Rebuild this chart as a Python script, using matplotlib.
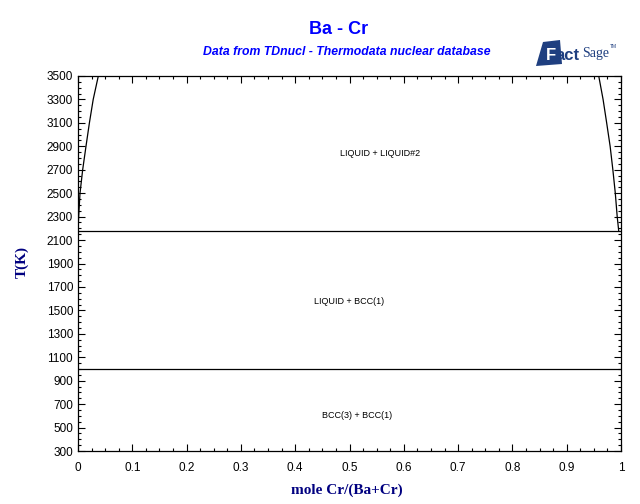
import matplotlib
matplotlib.use("Agg")
import matplotlib.pyplot as plt
from matplotlib.patches import Polygon
from matplotlib.ticker import MultipleLocator

# phase boundaries
liq_left_x = [0.0, 0.0012, 0.0037, 0.0086, 0.0147, 0.021, 0.028, 0.0374]
liq_left_T = [2178, 2300, 2500, 2700, 2900, 3100, 3300, 3500]
liq_right_x = [0.9958, 0.993, 0.9895, 0.985, 0.98, 0.9736, 0.967, 0.959]
liq_right_T = [2178, 2300, 2500, 2700, 2900, 3100, 3300, 3500]
ba_liquidus_x = [0.0, 0.0, 0.0003, 0.0008]
ba_liquidus_T = [1000, 1780, 2000, 2178]
monotectic_T = 2178
eutectic_T = 1000

region_labels = ["LIQUID + LIQUID#2", "LIQUID + BCC(1)", "BCC(3) + BCC(1)"]
label_x = [0.556, 0.499, 0.514]
label_T = [2842, 1580, 600]

y_ticks = list(range(300, 3501, 200))
x_ticks = [0, 0.1, 0.2, 0.3, 0.4, 0.5, 0.6, 0.7, 0.8, 0.9, 1]
x_ticklabels = ["0", "0.1", "0.2", "0.3", "0.4", "0.5", "0.6", "0.7", "0.8", "0.9", "1"]

plt.rcParams['font.family'] = ['Liberation Sans', 'DejaVu Sans']

fig = plt.figure(figsize=(6.4, 5.04), dpi=100)
ax = fig.add_axes([78 / 640, 1 - 451 / 504, 543 / 640, 375 / 504])

lw = 0.9
ax.plot(liq_left_x, liq_left_T, color='black', lw=lw)
ax.plot(liq_right_x, liq_right_T, color='black', lw=lw)
ax.plot(ba_liquidus_x, ba_liquidus_T, color='black', lw=lw)
ax.axhline(monotectic_T, color='black', lw=lw)
ax.axhline(eutectic_T, color='black', lw=lw)

for txt, xx, tt in zip(region_labels, label_x, label_T):
    ax.text(xx, tt, txt, fontsize=6.5, ha='center', va='center')

ax.set_xlim(0, 1)
ax.set_ylim(300, 3500)
ax.set_yticks(y_ticks)
ax.set_xticks(x_ticks)
ax.set_xticklabels(x_ticklabels)
ax.xaxis.set_minor_locator(MultipleLocator(0.025))
ax.yaxis.set_minor_locator(MultipleLocator(50))
ax.tick_params(which='both', direction='in', top=True, right=True, labelsize=8.5)
ax.tick_params(which='major', length=5, width=0.8)
ax.tick_params(which='minor', length=2.5, width=0.8)
ax.tick_params(axis='x', pad=8)
for s in ax.spines.values():
    s.set_linewidth(0.9)

navy = '#000080'
ax.set_xlabel("mole Cr/(Ba+Cr)", fontsize=11, fontweight='bold',
              family='Liberation Serif', color=navy, va='center')
ax.set_ylabel("T(K)", fontsize=11, fontweight='bold',
              family='Liberation Serif', color=navy, va='center')
ax.xaxis.set_label_coords(0.495, -0.104)
ax.yaxis.set_label_coords(-0.103, 0.504)

fig.text(339 / 640, 1 - 30 / 504, "Ba - Cr", fontsize=13, fontweight='bold',
         color='#0000ff', ha='center', va='center')
fig.text(347 / 640, 1 - 52 / 504, "Data from TDnucl - Thermodata nuclear database",
         fontsize=8.8, fontweight='bold', style='italic', color='#0000ff',
         ha='center', va='center')

# FactSage logo
logo = '#1f3f80'
pts = [(543, 42), (560, 40), (562, 64), (536, 66)]
fig.patches.append(Polygon([(px / 640, 1 - py / 504) for px, py in pts],
                           closed=True, transform=fig.transFigure,
                           facecolor=logo, edgecolor='none'))
fig.text(546 / 640, 1 - 55 / 504, "F", fontsize=12, fontweight='bold',
         color='white', ha='left', va='center')
fig.text(556 / 640, 1 - 55 / 504, "act", fontsize=12, fontweight='bold',
         color=logo, ha='left', va='center')
fig.text(582 / 640, 1 - 54 / 504, "Sage", fontsize=10, family='Liberation Serif',
         color=logo, ha='left', va='center')
fig.text(610 / 640, 1 - 46 / 504, "TM", fontsize=3.5, color=logo,
         ha='left', va='center')

fig.savefig("out.png", dpi=100)
